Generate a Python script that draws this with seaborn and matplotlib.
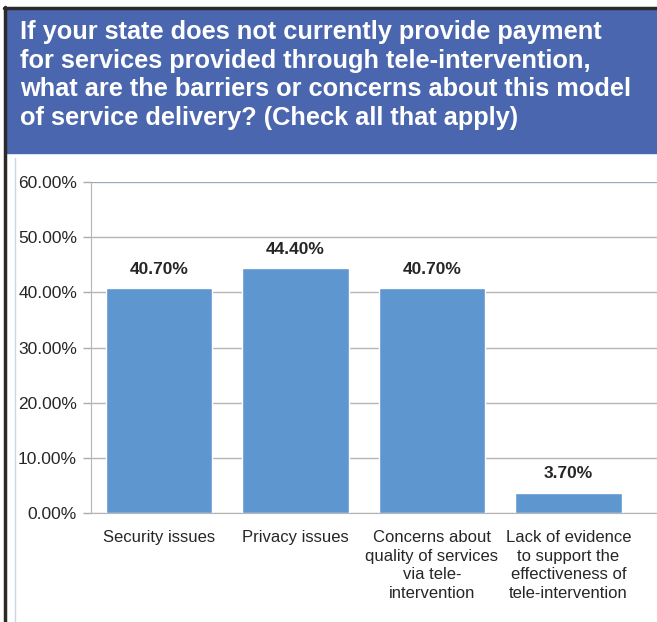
import matplotlib
matplotlib.use('Agg')
import matplotlib.pyplot as plt
import seaborn as sns
import pandas as pd
from matplotlib.patches import Rectangle
from matplotlib.lines import Line2D

# データ
categories = ['Security issues', 'Privacy issues',
              'Concerns about\nquality of services\nvia tele-\nintervention',
              'Lack of evidence\nto support the\neffectiveness of\ntele-intervention']
percent = [40.7, 44.4, 40.7, 3.7]
yticks = [0, 10, 20, 30, 40, 50, 60]
title = ('If your state does not currently provide payment\n'
         'for services provided through tele-intervention,\n'
         'what are the barriers or concerns about this model\n'
         'of service delivery? (Check all that apply)')

df = pd.DataFrame({'cat': categories, 'pct': percent})

sns.set_style('white')
plt.rcParams['font.family'] = ['Liberation Sans', 'DejaVu Sans']

fig = plt.figure(figsize=(6.57, 6.22), dpi=100)
W, H = 657, 622

# 枠と青いタイトルボックス
fig.patches.append(Rectangle((6 / W, 1 - 153 / H), 1, 143 / H, transform=fig.transFigure,
                             color='#4A66AE', zorder=0))
fig.lines.append(Line2D([4.5 / W, 4.5 / W], [0, 1 - 7 / H], transform=fig.transFigure,
                        color='#2a2a2a', lw=2.5))
fig.lines.append(Line2D([4 / W, 1], [1 - 8 / H, 1 - 8 / H], transform=fig.transFigure,
                        color='#2a2a2a', lw=2.5))
fig.lines.append(Line2D([15 / W, 15 / W], [0, 1 - 158 / H], transform=fig.transFigure,
                        color='#c9d6e3', lw=1))
fig.text(20 / W, 1 - 20 / H, title, color='white', fontsize=18.3, fontweight='bold',
         va='top', ha='left', linespacing=1.24)

ax = fig.add_axes([91 / W, 1 - 513 / H, 1 - 91 / W, 331 / H])
sns.barplot(data=df, x='cat', y='pct', color='#5E96CF', saturation=1, width=0.78, ax=ax)
ax.set_xlim(-0.5, 3.65)
ax.set_ylim(0, 60)
ax.set_yticks(yticks)
ax.set_yticklabels([f'{v:.2f}%' for v in yticks], fontsize=12.5)
ax.yaxis.grid(True, color='#b5b5b5', lw=1)
ax.set_axisbelow(True)
ax.tick_params(axis='y', length=6, color='#aaaaaa', width=1, pad=4, left=True)
ax.tick_params(axis='x', length=0, pad=12)
for lab in ax.get_xticklabels():
    lab.set_fontsize(12)
    lab.set_linespacing(1.32)
for s in ['top', 'right']:
    ax.spines[s].set_visible(False)
ax.spines['left'].set_color('#b5b5b5')
ax.spines['bottom'].set_color('#b5b5b5')
ax.axhline(60, color='#8aa7c8', lw=1.2)
ax.set_xlabel('')
ax.set_ylabel('')

for c in ax.containers:
    ax.bar_label(c, labels=[f'{v:.2f}%' for v in percent], padding=8,
                 fontsize=12.5, fontweight='bold')

fig.savefig('out.png', dpi=100)
